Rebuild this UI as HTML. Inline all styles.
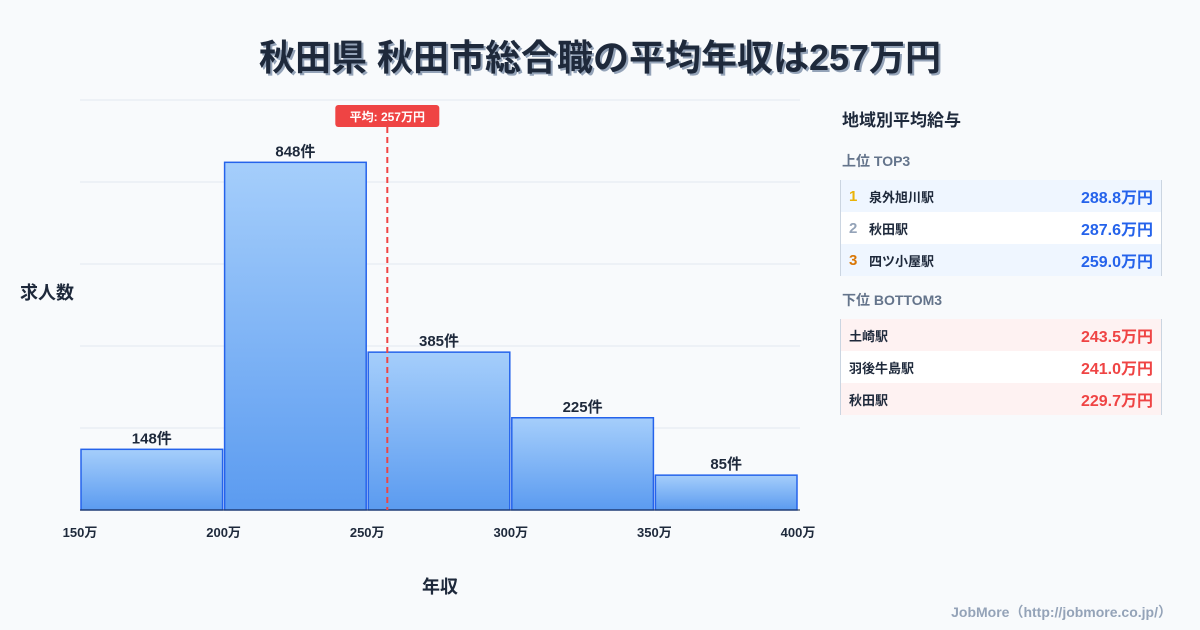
<!DOCTYPE html>
<html><head><meta charset="utf-8">
<style>
body{margin:0;width:1200px;height:630px;background:#f8fafc;font-family:"Liberation Sans","Noto Sans CJK JP",sans-serif;position:relative;overflow:hidden;color:#1e293b}
#title{position:absolute;left:0;top:29px;width:1200px;text-align:center;font-size:36px;font-weight:bold;color:#1e293b;text-shadow:2px 2px 0 #94a3b8}
#panel{position:absolute;left:842px;top:100px;width:320px}
.ph{font-size:17px;font-weight:bold;color:#1e293b;margin:6px 0 20px}
.sh{font-size:14px;font-weight:bold;color:#64748b;margin:0 0 9px}
.tbl{border-left:1px solid #cbd5e1;border-right:1px solid #cbd5e1;margin-bottom:14px;margin-left:-2px}
.row{height:32px;display:flex;align-items:center;font-size:13px;font-weight:bold;padding:0 8px 0 8px}
.row .n{width:20px;font-size:15px}
.row .s{flex:1}
.row .v{font-size:16px}
.top .row:nth-child(odd){background:#eff6ff}
.top .row:nth-child(even){background:#fff}
.bot .row:nth-child(odd){background:#fef2f2}
.bot .row:nth-child(even){background:#fff}
.top .v{color:#2563eb}.bot .v{color:#ef4444}
#credit{position:absolute;right:28px;top:602px;font-size:14px;font-weight:bold;color:#94a3b8}
</style></head><body>
<div id="title">秋田県 秋田市総合職の平均年収は257万円</div>
<svg id="chart" width="830" height="630" style="position:absolute;left:0;top:0"></svg>
<div id="panel">
<div class="ph">地域別平均給与</div>
<div class="sh">上位 TOP3</div>
<div class="tbl top">
<div class="row"><span class="n" style="color:#eab308">1</span><span class="s">泉外旭川駅</span><span class="v">288.8万円</span></div>
<div class="row"><span class="n" style="color:#94a3b8">2</span><span class="s">秋田駅</span><span class="v">287.6万円</span></div>
<div class="row"><span class="n" style="color:#d97706">3</span><span class="s">四ツ小屋駅</span><span class="v">259.0万円</span></div>
</div>
<div class="sh">下位 BOTTOM3</div>
<div class="tbl bot">
<div class="row"><span class="s">土崎駅</span><span class="v">243.5万円</span></div>
<div class="row"><span class="s">羽後牛島駅</span><span class="v">241.0万円</span></div>
<div class="row"><span class="s">秋田駅</span><span class="v">229.7万円</span></div>
</div>
</div>
<div id="credit">JobMore（http://jobmore.co.jp/）</div>
<script>
const binStarts=[150,200,250,300,350];
const counts=[148,848,385,225,85];
const xTicks=[150,200,250,300,350,400];
const yGrid=[0,200,400,600,800,1000];
const avg=257;
const NS="http://www.w3.org/2000/svg";
const svg=document.getElementById('chart');
const X=v=>80+(v-150)*(718/250);
const Y=v=>510-v*0.41;
function mk(t,a){const e=document.createElementNS(NS,t);for(const k in a)e.setAttribute(k,a[k]);svg.appendChild(e);return e;}
const defs=mk('defs',{});
defs.innerHTML='<linearGradient id="g" x1="0" y1="0" x2="0" y2="1"><stop offset="0" stop-color="#a5cefb"/><stop offset="1" stop-color="#5b9bf0"/></linearGradient>';
yGrid.forEach(v=>{const l=mk('line',{x1:80,x2:800,y1:Y(v),y2:Y(v),stroke:'#e2e8f0','stroke-width':1});

});
binStarts.forEach((b,i)=>{
const x0=X(b)+1,x1=X(b+50)-1;
const r=mk('rect',{x:x0,y:Y(counts[i]),width:x1-x0,height:Y(0)-Y(counts[i]),fill:'url(#g)',stroke:'#2563eb','stroke-width':1.5});


const t=mk('text',{x:(x0+x1)/2,y:Y(counts[i])-6,'text-anchor':'middle','font-size':15,'font-weight':'bold',fill:'#1e293b'});
t.textContent=counts[i]+'件';


});
mk('line',{x1:80,x2:800,y1:510,y2:510,stroke:'#1e293b','stroke-width':1});
xTicks.forEach(v=>{const t=mk('text',{x:X(v),y:537,'text-anchor':'middle','font-size':13,'font-weight':'bold',fill:'#1e293b'});
t.textContent=v+'万';

});
const ax=X(avg);
const al=mk('line',{x1:ax,x2:ax,y1:127,y2:510,stroke:'#ef4444','stroke-width':2,'stroke-dasharray':'6,4'});


const ab=mk('rect',{x:ax-52,y:105,width:104,height:22,rx:3,fill:'#ef4444'});


const at=mk('text',{x:ax,y:121,'text-anchor':'middle','font-size':12,'font-weight':'bold',fill:'#fff'});
at.textContent='平均: '+avg+'万円';


const yt=mk('text',{x:20,y:299,'font-size':18,'font-weight':'bold',fill:'#1e293b'});
yt.textContent='求人数';


const xt=mk('text',{x:440,y:593,'text-anchor':'middle','font-size':18,'font-weight':'bold',fill:'#1e293b'});
xt.textContent='年収';


</script>
</body></html>
